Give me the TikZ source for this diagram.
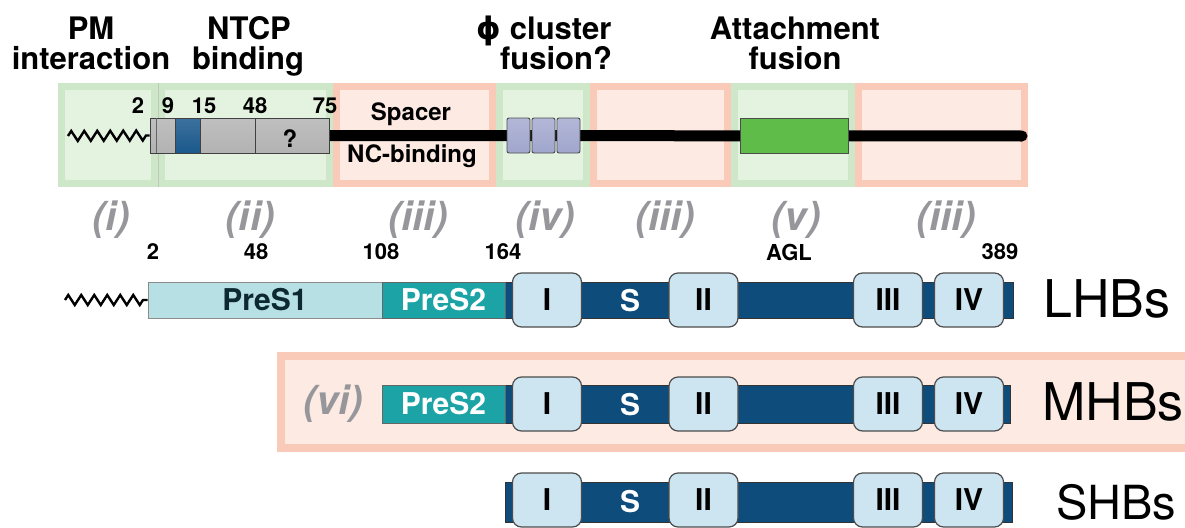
\documentclass[tikz,border=0pt]{standalone}
\usepackage{fontspec}
\setmainfont{TeX Gyre Heros}
\newfontfamily\dvs{DejaVu Sans}
\usetikzlibrary{decorations.pathmorphing}
\definecolor{gband}{RGB}{207,231,201}
\definecolor{gfill}{RGB}{228,242,224}
\definecolor{pband}{RGB}{249,202,184}
\definecolor{pfill}{RGB}{252,234,227}
\definecolor{navy}{RGB}{14,76,124}
\definecolor{preonefill}{RGB}{183,224,228}
\definecolor{pretwofill}{RGB}{27,163,166}
\definecolor{domfill}{RGB}{205,228,241}
\definecolor{romgray}{RGB}{150,150,155}
\definecolor{attg}{RGB}{96,188,72}
\definecolor{segblue}{RGB}{26,88,140}
\definecolor{lav}{RGB}{160,165,205}
\definecolor{darktxt}{RGB}{12,40,50}
\tikzset{
  head/.style={font=\fontsize{31}{32}\selectfont\bfseries, anchor=base, inner sep=0},
  num/.style={font=\fontsize{22}{24}\selectfont\bfseries, inner sep=0},
  smalllab/.style={font=\fontsize{24}{26}\selectfont\bfseries, inner sep=0},
  roman/.style={font=\fontsize{40}{42}\selectfont\bfseries\itshape, text=romgray, inner sep=0},
  protname/.style={font=\fontsize{52}{54}\selectfont, anchor=west, inner sep=0},
  navybar/.style={fill=navy, draw=black!80, line width=0.8pt, inner sep=0},
  preone/.style={fill=preonefill, draw=black!45, line width=0.8pt, inner sep=0,
     font=\fontsize{30}{31}\selectfont\bfseries, text=darktxt},
  pretwo/.style={fill=pretwofill, draw=black!60, line width=0.8pt, inner sep=0,
     font=\fontsize{30}{31}\selectfont\bfseries, text=white},
  dombox/.style={rounded corners=9pt, fill=domfill, draw=black!70, line width=1.2pt,
     inner sep=0, minimum width=69pt, minimum height=54pt,
     font=\fontsize{30}{31}\selectfont\bfseries},
  stext/.style={font=\fontsize{30}{31}\selectfont\bfseries, text=white, inner sep=0},
  cyl/.style={draw=black!75, line width=0.9pt, inner sep=0, minimum height=35pt,
     top color=gray!50, middle color=gray!8, bottom color=gray!60},
  smallcyl/.style={draw=black!70, line width=0.9pt, inner sep=0, minimum height=35pt,
     minimum width=23pt, rounded corners=2pt,
     top color=lav!80, middle color=lav!35, bottom color=lav},
  zz/.style={decorate, decoration={zigzag, segment length=13pt, amplitude=5pt}, line width=2.4pt, line join=miter}
}
\begin{document}
\begin{tikzpicture}[x=1pt,y=-1pt]
\path[use as bounding box, clip] (0,0) rectangle (1185,527);
\fill[white] (0,0) rectangle (1185,527);

% ---------- top region boxes ----------
\foreach \a/\b/\o/\i in {58/158/gband/gfill, 158/333/gband/gfill, 333/496/pband/pfill,
  496/590/gband/gfill, 590/731/pband/pfill, 731/855/gband/gfill, 855/1028/pband/pfill}{
  \fill[\o] (\a,83) rectangle (\b,187);
  \fill[\i] (\a+7,90) rectangle (\b-7,180);
}
\draw[gband!70!black!60, line width=0.6pt] (158,83) -- (158,187);

% headings
\node[head] (hpm1) at (91,40) {PM};
\node[head] (hpm2) at (91,70) {interaction};
\node[head] (hnt1) at (249,40) {NTCP};
\node[head] (hnt2) at (248,70) {binding};
\node[head] (hph1) at (544,40) {{\dvs\bfseries ϕ} cluster};
\node[head] (hph2) at (556,70) {fusion?};
\node[head] (hat1) at (795,40) {Attachment};
\node[head] (hat2) at (795,70) {fusion};

% backbone
\coordinate (bbend) at (1022,136);
\coordinate (zzstart) at (68,136);
\node[cyl, minimum width=179pt] (ntcp) at (239.5,135.5) {};
\draw[line width=11pt, line cap=round] (ntcp.east) -- (bbend);
\draw[zz] (zzstart) -- (ntcp.west);
\node[cyl, minimum width=179pt] (ntcpb) at (239.5,135.5) {};
\node[draw=black!75, line width=0.9pt, inner sep=0, minimum width=25pt, minimum height=35pt,
  top color=segblue!85, middle color=segblue!75!white, bottom color=segblue] (seg) at (187.5,135.5) {};
\draw[black!60, line width=0.7pt] (ntcpb.north west) ++(7,0) -- ++(0,35);
\draw[black!75, line width=0.9pt] (255,118) -- (255,153);
\node[smalllab] (qm) at (290,139) {?};

\node[smallcyl] (c1) at (518.5,135.5) {};
\node[smallcyl] (c2) at (543.5,135.5) {};
\node[smallcyl] (c3) at (568.5,135.5) {};
\node[fill=attg, draw=black!70, line width=0.9pt, inner sep=0, minimum width=108pt, minimum height=35pt] (att) at (794,135.5) {};

\node[smalllab] (spacer) at (411,114) {Spacer};
\node[smalllab] (ncb) at (412,156) {NC-binding};

\node[num] (t2) at (138,106) {2};
\node[num] (t9) at (168,106) {9};
\node[num] (t15) at (204,106) {15};
\node[num] (t48) at (255,106) {48};
\node[num] (t75) at (325,106) {75};

% roman numerals
\node[roman] (r1) at (111,220) {(i)};
\node[roman] (r2) at (250,220) {(ii)};
\node[roman] (r3) at (418,220) {(iii)};
\node[roman] (r4) at (545,220) {(iv)};
\node[roman] (r5) at (665,220) {(iii)};
\node[roman] (r6) at (796,220) {(v)};
\node[roman] (r7) at (946,220) {(iii)};

% position numbers
\node[num] (p2) at (153,252) {2};
\node[num] (p48) at (256,252) {48};
\node[num] (p108) at (381,252) {108};
\node[num] (p164) at (503,252) {164};
\node[num] (pagl) at (789,252) {AGL};
\node[num] (p389) at (1000,252) {389};

% ---------- LHBs ----------
\coordinate (lzz) at (65,300);
\node[navybar, minimum width=508pt, minimum height=36pt] (lbar) at (759,300) {};
\node[preone, minimum width=234pt, minimum height=36pt] (lp1) at (265,300) {PreS1};
\node[pretwo, minimum width=123pt, minimum height=36pt] (lp2) at (443.5,300) {PreS2};
\draw[zz] (lzz) -- (lp1.west);
\node[dombox] (l1) at (547,300) {I};
\node[stext] (ls) at (630,301) {S};
\node[dombox] (l2) at (703.5,300) {II};
\node[dombox] (l3) at (888,300) {III};
\node[dombox] (l4) at (969,300) {IV};
\node[protname] (lname) at (1043,299) {LHBs};

% ---------- MHBs ----------
\fill[pband] (277,352) rectangle (1200,452);
\fill[pfill] (285,360) rectangle (1200,444);
\node[roman] (r8) at (333,404) {(vi)};
\node[navybar, minimum width=505pt, minimum height=38pt] (mbar) at (757.5,404) {};
\node[pretwo, minimum width=123pt, minimum height=38pt] (mp2) at (443.5,404) {PreS2};
\node[dombox] (m1) at (547,404) {I};
\node[stext] (ms) at (630,405) {S};
\node[dombox] (m2) at (703.5,404) {II};
\node[dombox] (m3) at (888,404) {III};
\node[dombox] (m4) at (969,404) {IV};
\node[protname] (mname) at (1042,402) {MHBs};

% ---------- SHBs ----------
\node[navybar, minimum width=507pt, minimum height=40pt] (sbar) at (758.5,502) {};
\node[dombox] (s1) at (547,500) {I};
\node[stext] (ss) at (630,502) {S};
\node[dombox] (s2) at (703.5,500) {II};
\node[dombox] (s3) at (888,500) {III};
\node[dombox] (s4) at (969,500) {IV};
\node[protname, font=\fontsize{47}{49}\selectfont] (sname) at (1056,502) {SHBs};
\end{tikzpicture}
\end{document}
